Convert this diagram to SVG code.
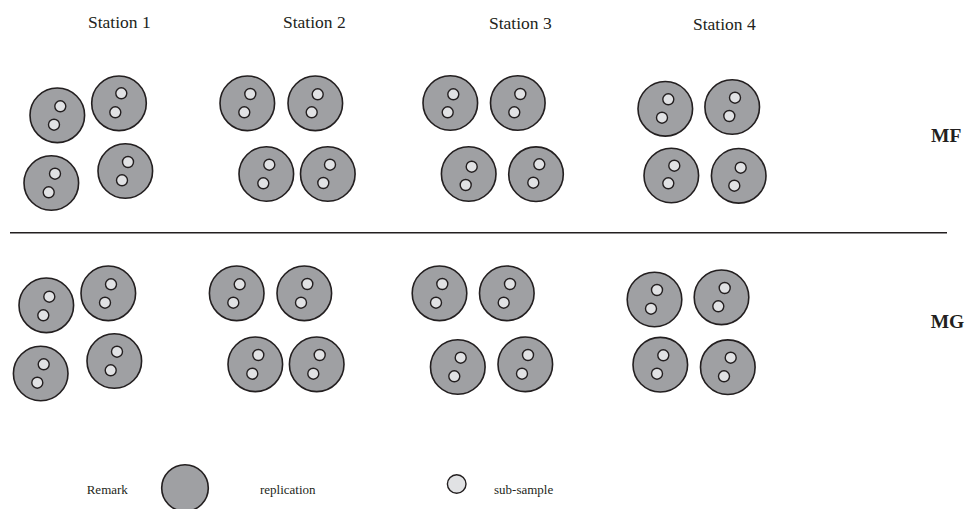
<svg xmlns="http://www.w3.org/2000/svg" width="966" height="509" viewBox="0 0 966 509">
<style>
.rep{fill:#9fa0a3;stroke:#231f20;stroke-width:1.6}
.sub{fill:#e1e2e4;stroke:#231f20;stroke-width:1.4}
.lbl{font-family:"Liberation Serif","Times New Roman",serif;font-size:17.5px;fill:#231f20}
.grp{font-family:"Liberation Serif","Times New Roman",serif;font-size:19.5px;font-weight:bold;fill:#231f20}
.leg{font-family:"Liberation Serif","Times New Roman",serif;font-size:13px;fill:#231f20}
.div{stroke:#231f20;stroke-width:1.6;fill:none}
</style>
<rect width="966" height="509" fill="#ffffff"/>
<g id="labels">
<text class="lbl" x="88" y="28">Station 1</text>
<text class="lbl" x="283" y="28">Station 2</text>
<text class="lbl" x="489" y="29.3">Station 3</text>
<text class="lbl" x="693" y="30">Station 4</text>
<text class="grp" x="931" y="141.5">MF</text>
<text class="grp" x="930.7" y="328.3">MG</text>
</g>
<g id="connectors">
<line class="div" x1="10" y1="232.7" x2="947" y2="232.7"/>
</g>
<g id="mf-s1-r1"><circle class="rep" cx="57.3" cy="115.3" r="27.3"/><circle class="sub" cx="60.3" cy="106.3" r="5.5"/><circle class="sub" cx="54" cy="124.7" r="5.5"/></g>
<g id="mf-s1-r2"><circle class="rep" cx="119" cy="103.3" r="27.3"/><circle class="sub" cx="121.3" cy="93.3" r="5.5"/><circle class="sub" cx="115.3" cy="112.3" r="5.5"/></g>
<g id="mf-s1-r3"><circle class="rep" cx="51.3" cy="183" r="27.3"/><circle class="sub" cx="55" cy="173.7" r="5.5"/><circle class="sub" cx="48.7" cy="192.3" r="5.5"/></g>
<g id="mf-s1-r4"><circle class="rep" cx="125.3" cy="171" r="27.3"/><circle class="sub" cx="128" cy="162" r="5.5"/><circle class="sub" cx="122" cy="180.3" r="5.5"/></g>
<g id="mf-s2-r1"><circle class="rep" cx="247.3" cy="103.3" r="27.3"/><circle class="sub" cx="250.3" cy="94" r="5.5"/><circle class="sub" cx="244.3" cy="112.3" r="5.5"/></g>
<g id="mf-s2-r2"><circle class="rep" cx="315.3" cy="103.3" r="27.3"/><circle class="sub" cx="317.7" cy="94.3" r="5.5"/><circle class="sub" cx="311.7" cy="112.3" r="5.5"/></g>
<g id="mf-s2-r3"><circle class="rep" cx="266.3" cy="174" r="27.3"/><circle class="sub" cx="269.3" cy="164.7" r="5.5"/><circle class="sub" cx="263.3" cy="183.3" r="5.5"/></g>
<g id="mf-s2-r4"><circle class="rep" cx="327.8" cy="174" r="27.3"/><circle class="sub" cx="330" cy="164.7" r="5.5"/><circle class="sub" cx="323.3" cy="183" r="5.5"/></g>
<g id="mf-s3-r1"><circle class="rep" cx="450.3" cy="103" r="27.3"/><circle class="sub" cx="453.3" cy="94.3" r="5.5"/><circle class="sub" cx="447.7" cy="112.3" r="5.5"/></g>
<g id="mf-s3-r2"><circle class="rep" cx="517.8" cy="103" r="27.3"/><circle class="sub" cx="520.3" cy="94" r="5.5"/><circle class="sub" cx="514.3" cy="112.3" r="5.5"/></g>
<g id="mf-s3-r3"><circle class="rep" cx="468.7" cy="174" r="27.3"/><circle class="sub" cx="471.7" cy="166.7" r="5.5"/><circle class="sub" cx="465.7" cy="185" r="5.5"/></g>
<g id="mf-s3-r4"><circle class="rep" cx="536" cy="174.2" r="27.3"/><circle class="sub" cx="539.3" cy="164.3" r="5.5"/><circle class="sub" cx="533.3" cy="182.7" r="5.5"/></g>
<g id="mf-s4-r1"><circle class="rep" cx="665.3" cy="108.8" r="27.3"/><circle class="sub" cx="668.3" cy="99.3" r="5.5"/><circle class="sub" cx="662" cy="117.7" r="5.5"/></g>
<g id="mf-s4-r2"><circle class="rep" cx="732.2" cy="107" r="27.3"/><circle class="sub" cx="735" cy="97.7" r="5.5"/><circle class="sub" cx="729.3" cy="116" r="5.5"/></g>
<g id="mf-s4-r3"><circle class="rep" cx="671.3" cy="175.5" r="27.3"/><circle class="sub" cx="674.3" cy="165.7" r="5.5"/><circle class="sub" cx="668.3" cy="183.3" r="5.5"/></g>
<g id="mf-s4-r4"><circle class="rep" cx="738.7" cy="175.8" r="27.3"/><circle class="sub" cx="740.7" cy="167.7" r="5.5"/><circle class="sub" cx="734.3" cy="185.7" r="5.5"/></g>
<g id="mg-s1-r1"><circle class="rep" cx="46.3" cy="305.3" r="27.3"/><circle class="sub" cx="49.3" cy="296.7" r="5.5"/><circle class="sub" cx="43.3" cy="315.3" r="5.5"/></g>
<g id="mg-s1-r2"><circle class="rep" cx="108.3" cy="293.3" r="27.3"/><circle class="sub" cx="111" cy="284.3" r="5.5"/><circle class="sub" cx="105" cy="302.7" r="5.5"/></g>
<g id="mg-s1-r3"><circle class="rep" cx="40.7" cy="373.5" r="27.3"/><circle class="sub" cx="43.7" cy="364.3" r="5.5"/><circle class="sub" cx="37.3" cy="382.7" r="5.5"/></g>
<g id="mg-s1-r4"><circle class="rep" cx="114.3" cy="361" r="27.3"/><circle class="sub" cx="117" cy="351.7" r="5.5"/><circle class="sub" cx="110.7" cy="370.3" r="5.5"/></g>
<g id="mg-s2-r1"><circle class="rep" cx="236.7" cy="293.3" r="27.3"/><circle class="sub" cx="239.7" cy="284.3" r="5.5"/><circle class="sub" cx="233.3" cy="302.7" r="5.5"/></g>
<g id="mg-s2-r2"><circle class="rep" cx="304.3" cy="293.3" r="27.3"/><circle class="sub" cx="307.3" cy="284" r="5.5"/><circle class="sub" cx="301" cy="302.7" r="5.5"/></g>
<g id="mg-s2-r3"><circle class="rep" cx="255.3" cy="364.3" r="27.3"/><circle class="sub" cx="258.3" cy="355" r="5.5"/><circle class="sub" cx="252.3" cy="373.7" r="5.5"/></g>
<g id="mg-s2-r4"><circle class="rep" cx="316.7" cy="364.3" r="27.3"/><circle class="sub" cx="319.7" cy="355" r="5.5"/><circle class="sub" cx="313.3" cy="373.7" r="5.5"/></g>
<g id="mg-s3-r1"><circle class="rep" cx="439.5" cy="293.3" r="27.3"/><circle class="sub" cx="442.3" cy="284" r="5.5"/><circle class="sub" cx="436" cy="302.7" r="5.5"/></g>
<g id="mg-s3-r2"><circle class="rep" cx="506.8" cy="293.3" r="27.3"/><circle class="sub" cx="510" cy="284" r="5.5"/><circle class="sub" cx="503.7" cy="302.7" r="5.5"/></g>
<g id="mg-s3-r3"><circle class="rep" cx="457.8" cy="367" r="27.3"/><circle class="sub" cx="460.7" cy="357.7" r="5.5"/><circle class="sub" cx="454.3" cy="376.3" r="5.5"/></g>
<g id="mg-s3-r4"><circle class="rep" cx="525.3" cy="364.3" r="27.3"/><circle class="sub" cx="528" cy="355" r="5.5"/><circle class="sub" cx="522" cy="373.7" r="5.5"/></g>
<g id="mg-s4-r1"><circle class="rep" cx="654.5" cy="299.5" r="27.3"/><circle class="sub" cx="657" cy="290" r="5.5"/><circle class="sub" cx="651" cy="308.7" r="5.5"/></g>
<g id="mg-s4-r2"><circle class="rep" cx="721.5" cy="297.3" r="27.3"/><circle class="sub" cx="724.7" cy="288" r="5.5"/><circle class="sub" cx="718.3" cy="306.3" r="5.5"/></g>
<g id="mg-s4-r3"><circle class="rep" cx="660.3" cy="364.7" r="27.3"/><circle class="sub" cx="663.3" cy="355.3" r="5.5"/><circle class="sub" cx="657" cy="373.7" r="5.5"/></g>
<g id="mg-s4-r4"><circle class="rep" cx="727.8" cy="367.2" r="27.3"/><circle class="sub" cx="730.7" cy="357.7" r="5.5"/><circle class="sub" cx="724" cy="376.3" r="5.5"/></g>
<g id="legend">
<text class="leg" x="86.7" y="494">Remark</text>
<circle class="rep" cx="185" cy="488" r="23.3"/>
<text class="leg" x="260" y="494">replication</text>
<circle class="sub" cx="456.7" cy="484" r="9.3"/>
<text class="leg" x="494" y="494">sub-sample</text>
</g>
</svg>
